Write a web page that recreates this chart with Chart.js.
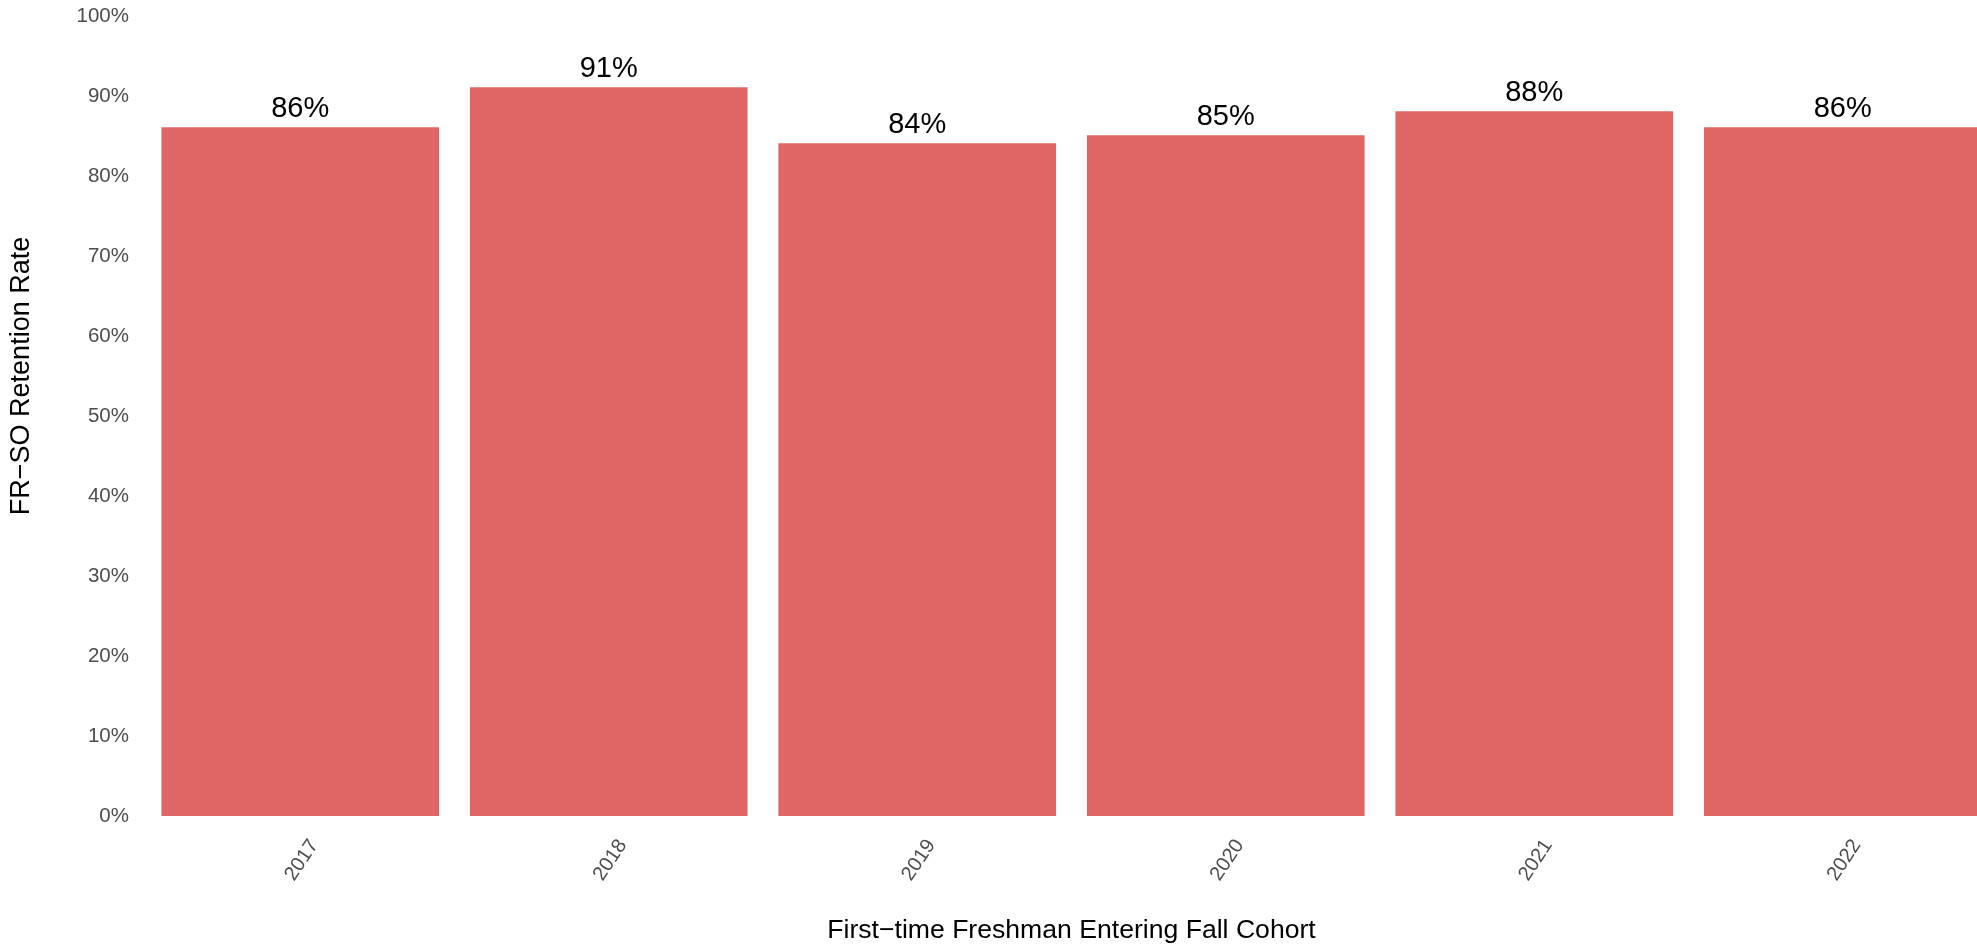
<!DOCTYPE html>
<html>
<head>
<meta charset="utf-8">
<script src="https://cdn.jsdelivr.net/npm/chart.js@4.4.1/dist/chart.umd.min.js"></script>
<style>
  html, body { margin: 0; padding: 0; background: #fff; overflow: hidden; width: 1977px; height: 944px; }
  #wrap { position: absolute; left: 0; top: -64px; }
</style>
</head>
<body>
<div id="wrap"><canvas id="retention" width="1997" height="1008"></canvas></div>
<script>
const cohorts = ["2017", "2018", "2019", "2020", "2021", "2022"];
const retentionRates = [86.1, 91.1, 84.1, 85.1, 88.1, 86.1];
const yTicks = [0, 10, 20, 30, 40, 50, 60, 70, 80, 90, 100];

const BAR_COLOR = "#E06666";
const TICK_COLOR = "#4D4D4D";

Chart.defaults.font.family = "'Liberation Sans', Arial, sans-serif";

// ggplot style value labels above each bar
const barLabels = {
  id: "barLabels",
  afterDatasetsDraw(chart) {
    const { ctx } = chart;
    const meta = chart.getDatasetMeta(0);
    ctx.save();
    ctx.fillStyle = "#000";
    ctx.font = "29px 'Liberation Sans', Arial, sans-serif";
    ctx.textAlign = "center";
    ctx.textBaseline = "alphabetic";
    meta.data.forEach((bar, i) => {
      ctx.fillText(Math.round(retentionRates[i]) + "%", bar.x, bar.y - 10);
    });
    ctx.restore();
  },
};

new Chart(document.getElementById("retention"), {
  type: "bar",
  data: {
    labels: cohorts,
    datasets: [{
      data: retentionRates,
      backgroundColor: BAR_COLOR,
      borderWidth: 0,
      barPercentage: 0.9,
      categoryPercentage: 1,
    }],
  },
  options: {
    responsive: false,
    devicePixelRatio: 1,
    animation: false,
    layout: { padding: 0 },
    plugins: {
      legend: { display: false },
      tooltip: { enabled: false },
    },
    scales: {
      x: {
        offset: true,
        grid: { display: false, drawTicks: false },
        border: { display: false },
        ticks: {
          color: TICK_COLOR,
          font: { size: 20 },
          minRotation: 56,
          maxRotation: 56,
          padding: 19,
          labelOffset: 14,
        },
        title: {
          display: true,
          text: "First\u2212time Freshman Entering Fall Cohort",
          color: "#000",
          font: { size: 26.6, lineHeight: 1 },
          padding: { top: 0, bottom: 0 },
        },
        afterFit(scale) {
          scale.height = 128;
          scale.paddingLeft = 0;
          scale.paddingRight = 0;
        },
      },
      y: {
        min: 0,
        max: 110,
        grid: { display: false, drawTicks: false },
        border: { display: false },
        afterBuildTicks(scale) {
          scale.ticks = yTicks.map((v) => ({ value: v }));
        },
        ticks: {
          color: TICK_COLOR,
          font: { size: 20.5 },
          padding: 17,
          callback: (v) => v + "%",
        },
        title: {
          display: true,
          text: "FR\u2212SO Retention Rate",
          color: "#000",
          font: { size: 27, lineHeight: 1 },
          padding: { top: 8, bottom: 0 },
        },
        afterFit(scale) {
          scale.width = 146;
          scale.paddingTop = 0;
          scale.paddingBottom = 0;
        },
      },
    },
  },
  plugins: [barLabels],
});
</script>
</body>
</html>
